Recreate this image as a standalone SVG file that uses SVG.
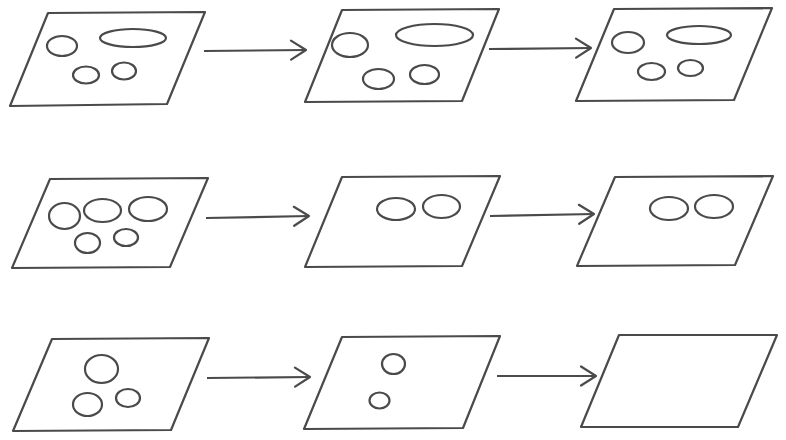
<svg xmlns="http://www.w3.org/2000/svg" width="786" height="440" viewBox="0 0 786 440">
<defs>
<marker id="chev" markerUnits="userSpaceOnUse" viewBox="-18 -12 20 24" refX="0" refY="0" markerWidth="20" markerHeight="24" orient="auto" overflow="visible">
<path d="M-15,-9.5 L0,0 L-15,9.5" fill="none" stroke="#4a4a4a" stroke-width="2.2" stroke-linecap="round" stroke-linejoin="round"/>
</marker>
</defs>
<style>
.plate{fill:#fff;stroke:#4a4a4a;stroke-width:2.2;stroke-linejoin:round}
.obj{fill:none;stroke:#4a4a4a;stroke-width:2.2}
.conn{fill:none;stroke:#4a4a4a;stroke-width:2.2;marker-end:url(#chev)}
</style>
<rect width="786" height="440" fill="#fff"/>
<g id="p1">
<polygon class="plate" points="48,13 205,12 167,104 10,106"/>
<ellipse class="obj" cx="62" cy="46" rx="15" ry="10"/>
<ellipse class="obj" cx="133" cy="38" rx="33" ry="9"/>
<ellipse class="obj" cx="86" cy="75" rx="13" ry="8.5"/>
<ellipse class="obj" cx="124" cy="71" rx="12" ry="8.5"/>
</g>
<g id="p2">
<polygon class="plate" points="342,10 499,9 462,101 305,102"/>
<ellipse class="obj" cx="350" cy="45" rx="18" ry="12"/>
<ellipse class="obj" cx="434.5" cy="35" rx="38.5" ry="11"/>
<ellipse class="obj" cx="378.5" cy="79" rx="15.5" ry="10"/>
<ellipse class="obj" cx="424.5" cy="74.5" rx="14.5" ry="9.5"/>
</g>
<g id="p3">
<polygon class="plate" points="614,9 772,8 734,100 576,101"/>
<ellipse class="obj" cx="628" cy="42.5" rx="16" ry="10.5"/>
<ellipse class="obj" cx="699" cy="35" rx="32" ry="9"/>
<ellipse class="obj" cx="651.5" cy="71.5" rx="13.5" ry="8.5"/>
<ellipse class="obj" cx="690.5" cy="68" rx="12.5" ry="8"/>
</g>
<g id="p4">
<polygon class="plate" points="50,179 208,178 170,267 12,268"/>
<ellipse class="obj" cx="64.5" cy="216" rx="15.5" ry="13"/>
<ellipse class="obj" cx="102.5" cy="210.5" rx="18.5" ry="11.5"/>
<ellipse class="obj" cx="148" cy="209" rx="19" ry="12"/>
<ellipse class="obj" cx="87.5" cy="243" rx="12.5" ry="10"/>
<ellipse class="obj" cx="126" cy="237.5" rx="12" ry="8.5"/>
</g>
<g id="p5">
<polygon class="plate" points="342,177 500,176 462,266 305,267"/>
<ellipse class="obj" cx="396" cy="209" rx="19" ry="11"/>
<ellipse class="obj" cx="441.5" cy="206.5" rx="18.5" ry="11.5"/>
</g>
<g id="p6">
<polygon class="plate" points="615,177 773,176 735,265 577,266"/>
<ellipse class="obj" cx="669" cy="208.5" rx="19" ry="11.5"/>
<ellipse class="obj" cx="714" cy="206.5" rx="19" ry="11.5"/>
</g>
<g id="p7">
<polygon class="plate" points="52,339 209,338 171,430 13,431"/>
<ellipse class="obj" cx="101.5" cy="369" rx="16.5" ry="14"/>
<ellipse class="obj" cx="87.5" cy="404.5" rx="14.5" ry="11.5"/>
<ellipse class="obj" cx="128" cy="398" rx="12" ry="9"/>
</g>
<g id="p8">
<polygon class="plate" points="342,337 500,336 463,428 304,429"/>
<ellipse class="obj" cx="393.5" cy="364" rx="11.5" ry="10"/>
<ellipse class="obj" cx="379.5" cy="400.5" rx="10" ry="8"/>
</g>
<g id="p9">
<polygon class="plate" points="619,335 777,335 738,427 581,427"/>
</g>
<g id="connectors">
<line class="conn" x1="204" y1="51" x2="306" y2="50"/>
<line class="conn" x1="489" y1="49" x2="591" y2="48"/>
<line class="conn" x1="206" y1="218" x2="309" y2="216"/>
<line class="conn" x1="490" y1="216" x2="594" y2="214"/>
<line class="conn" x1="207" y1="378" x2="310" y2="377"/>
<line class="conn" x1="497" y1="376" x2="596" y2="376"/>
</g>
</svg>
